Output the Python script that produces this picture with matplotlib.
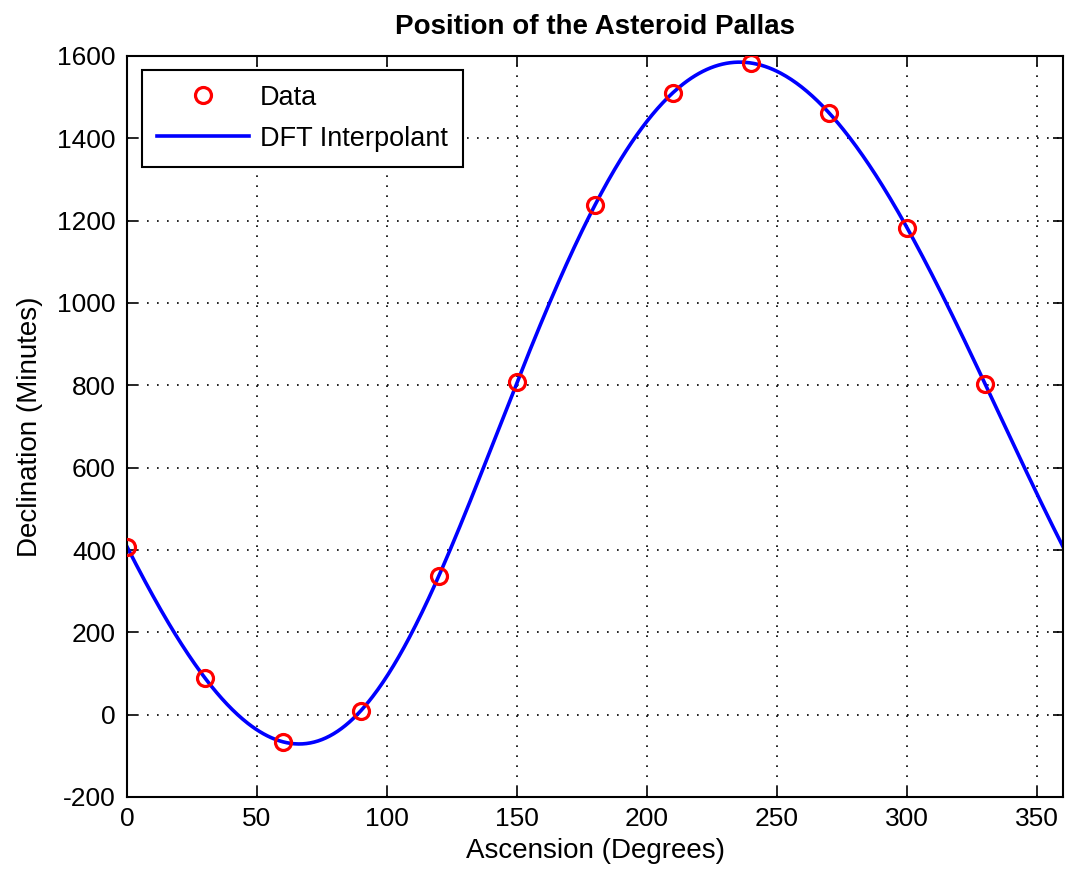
import numpy as np
import matplotlib
matplotlib.use("Agg")
import matplotlib.pyplot as plt

ascension = [0, 30, 60, 90, 120, 150, 180, 210, 240, 270, 300, 330]
declination = [408, 89, -66, 10, 338, 807, 1238, 1511, 1583, 1462, 1183, 804]

x = np.array(ascension, dtype=float)
y = np.array(declination, dtype=float)
n = len(y)
c = np.fft.fft(y) / n
xf = np.linspace(0, 360, 721)
t = 2 * np.pi * xf / 360.0
yf = np.real(c[0]) * np.ones_like(xf)
for k in range(1, n // 2):
    yf += 2 * (np.real(c[k]) * np.cos(k * t) - np.imag(c[k]) * np.sin(k * t))
yf += np.real(c[n // 2]) * np.cos(n // 2 * t)

plt.rcParams['font.family'] = ['Liberation Sans', 'DejaVu Sans']
plt.rcParams['axes.unicode_minus'] = False
fig = plt.figure(figsize=(10.65, 8.75), dpi=100)
ax = fig.add_axes([127 / 1065, 1 - 797 / 875, (1063 - 127) / 1065, (797 - 56) / 875])
ax.plot(x, y, 'o', mfc='none', mec='red', mew=2.3, ms=11.5, label='Data', zorder=3)
ax.plot(xf, yf, '-', color='blue', lw=2.6, label='DFT Interpolant', zorder=2)
ax.set_xlim(0, 360)
ax.set_ylim(-200, 1600)
ax.set_xticks(np.arange(0, 351, 50))
ax.set_yticks(np.arange(-200, 1601, 200))
ax.grid(True, linestyle=(0, (1, 5)), color='black', lw=1.2)
ax.tick_params(direction='in', top=True, right=True, labelsize=19, length=7, width=1.2)
ax.tick_params(axis='y', pad=8)
ax.tick_params(axis='x', pad=7)
for s in ax.spines.values():
    s.set_linewidth(1.5)
ax.set_title('Position of the Asteroid Pallas', fontsize=20, fontweight='bold', pad=16)
ax.set_xlabel('Ascension (Degrees)', fontsize=20, labelpad=5)
ax.set_ylabel('Declination (Minutes)', fontsize=20, labelpad=10)
leg = ax.legend(loc='upper left', fontsize=19.5, fancybox=False, framealpha=1,
                edgecolor='black', borderpad=0.55, handlelength=3.4, handletextpad=0.4,
                labelspacing=0.55, borderaxespad=0, bbox_to_anchor=(0.016, 0.981))
leg.get_frame().set_linewidth(1.5)
fig.savefig('out.png', dpi=100)
